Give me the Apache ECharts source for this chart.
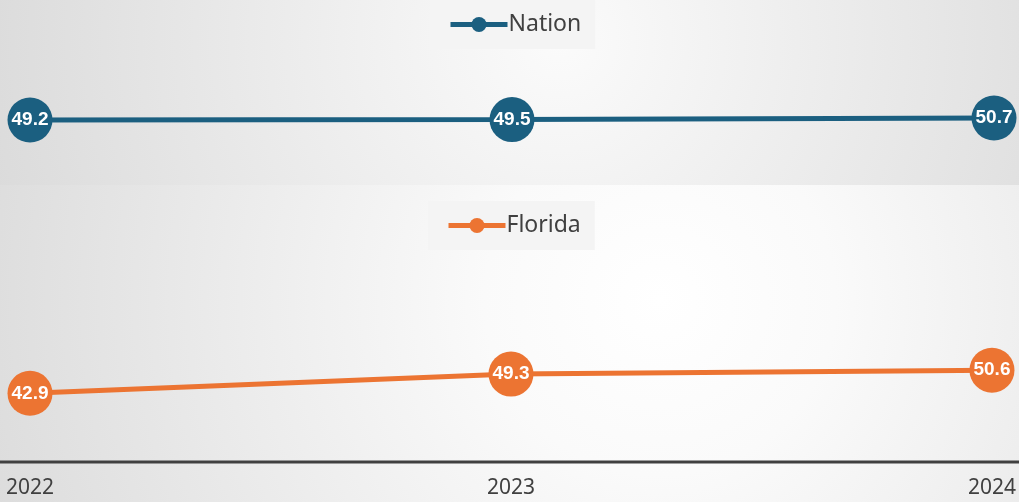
<!DOCTYPE html>
<html><head><meta charset="utf-8">
<script src="https://cdn.jsdelivr.net/npm/echarts@6/dist/echarts.min.js"></script>
<style>html,body{margin:0;padding:0;background:#fff}#c{width:1019px;height:502px}</style>
</head><body><div id="c"></div>
<script>
var years = ['2022', '2023', '2024'];
var nationValues = [49.2, 49.5, 50.7];
var floridaValues = [42.9, 49.3, 50.6];
var seriesNames = ['Nation', 'Florida'];

var chart = echarts.init(document.getElementById('c'));
var nationColor = '#1b5f80';
var floridaColor = '#ec7432';
function lbl() {
  return {show: true, position: 'inside', color: '#fff', fontSize: 19, fontWeight: 'bold',
    fontFamily: 'Liberation Sans', formatter: function (p) { return p.value.toFixed(1); }};
}
function leg(name, top, left) {
  return {data: [name], top: top, left: left, padding: [13, 14, 13, 18],
    backgroundColor: '#f4f4f4', itemWidth: 57, itemHeight: 19, itemGap: 4,
    lineStyle: {width: 5}, itemStyle: {},
    textStyle: {fontSize: 23, color: '#404040', fontFamily: 'Noto Sans', padding: [0, 0, 0, -4]}};
}
chart.setOption({
  animation: false,
  graphic: [
    {type: 'rect', z: -10, silent: true, shape: {x: 0, y: 0, width: 1019, height: 185},
      style: {fill: {type: 'radial', global: true, x: 560, y: 40, r: 620, colorStops: [
        {offset: 0, color: '#fbfbfb'}, {offset: 1, color: '#d9d9d9'}]}}},
    {type: 'rect', z: -10, silent: true, shape: {x: 0, y: 185, width: 1019, height: 317},
      style: {fill: {type: 'radial', global: true, x: 660, y: 300, r: 700, colorStops: [
        {offset: 0, color: '#ffffff'}, {offset: 0.25, color: '#fafafa'}, {offset: 1, color: '#dcdcdc'}]}}},
    {type: 'line', z: 5, silent: true, shape: {x1: 0, y1: 462, x2: 1019, y2: 462},
      style: {stroke: '#404040', lineWidth: 3}}
  ],
  legend: [leg(seriesNames[0], 0, 430), leg(seriesNames[1], 201, 428)],
  grid: [
    {left: 30, right: 25, top: 0, height: 185},
    {left: 30, right: 25, top: 192, bottom: 40}
  ],
  xAxis: [
    {gridIndex: 0, type: 'category', data: years, boundaryGap: false, show: false},
    {gridIndex: 1, type: 'category', data: years, boundaryGap: false,
      axisLine: {show: false}, axisTick: {show: false},
      axisLabel: {fontSize: 21, color: '#404040', fontFamily: 'Noto Sans', margin: 16}}
  ],
  yAxis: [
    {gridIndex: 0, type: 'value', min: 0, max: 140, show: false},
    {gridIndex: 1, type: 'value', min: 20, max: 110, show: false}
  ],
  series: [
    {name: seriesNames[0], type: 'line', xAxisIndex: 0, yAxisIndex: 0, data: nationValues,
      color: nationColor, symbol: 'circle', symbolSize: 45, lineStyle: {width: 5},
      label: lbl(), z: 3},
    {name: seriesNames[1], type: 'line', xAxisIndex: 1, yAxisIndex: 1, data: floridaValues,
      color: floridaColor, symbol: 'circle', symbolSize: 45, lineStyle: {width: 5},
      label: lbl(), z: 3}
  ]
});
</script></body></html>
